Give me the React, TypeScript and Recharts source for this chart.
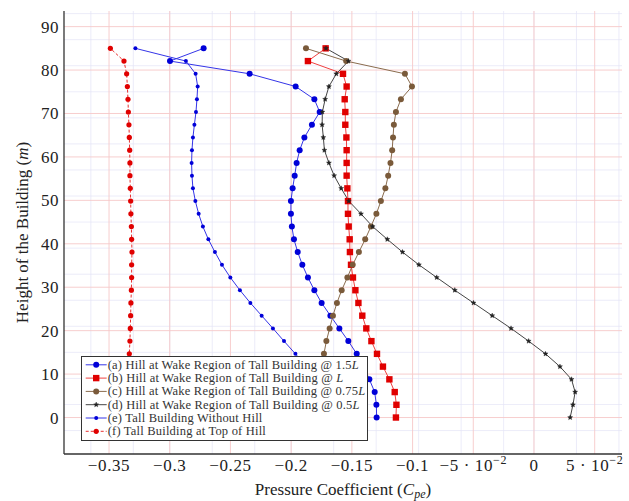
import { CartesianGrid, Label, Legend, Line, LineChart, XAxis, YAxis } from "recharts";

// heights of the pressure taps (m)
const HEIGHTS = [
  0, 2.93, 5.86, 8.79, 11.72, 14.66, 17.59, 20.52, 23.45, 26.38, 29.31, 32.24, 35.17, 38.1, 41.03,
  43.97, 46.9, 49.83, 52.76, 55.69, 58.62, 61.55, 64.48, 67.41, 70.34, 73.28, 76.21, 79.14, 82.07, 85,
];

// Cpe values, bottom to top
const WAKE_1_5L = [
  -0.1296, -0.1298, -0.1312, -0.1356, -0.1403, -0.146, -0.1529, -0.1603, -0.1677, -0.1749, -0.1809,
  -0.1862, -0.1908, -0.1946, -0.1977, -0.1994, -0.2002, -0.2002, -0.1988, -0.1971, -0.1955, -0.193,
  -0.1891, -0.1829, -0.1765, -0.1809, -0.1963, -0.2342, -0.2998, -0.2721,
];
const WAKE_L = [
  -0.1137, -0.1133, -0.1147, -0.1191, -0.1244, -0.1293, -0.1339, -0.1381, -0.1414, -0.1446, -0.1471,
  -0.1491, -0.1507, -0.1516, -0.1518, -0.1526, -0.1532, -0.1532, -0.1537, -0.1543, -0.1543, -0.1543,
  -0.1545, -0.1554, -0.1554, -0.1559, -0.1543, -0.1573, -0.1862, -0.1716,
];
const WAKE_075L = [
  -0.1773, -0.1769, -0.1765, -0.1757, -0.1745, -0.173, -0.171, -0.1683, -0.1656, -0.1623, -0.1584,
  -0.1537, -0.1493, -0.1442, -0.139, -0.1343, -0.1298, -0.1261, -0.1224, -0.1201, -0.1182, -0.1168,
  -0.1161, -0.1154, -0.1137, -0.1096, -0.1005, -0.1063, -0.1547, -0.1878,
];
const WAKE_05L = [
  0.0298, 0.0321, 0.0339, 0.0309, 0.0214, 0.0095, -0.0044, -0.0189, -0.0344, -0.0498, -0.0652,
  -0.0801, -0.0948, -0.1083, -0.1208, -0.1329, -0.1425, -0.1525, -0.1588, -0.1646, -0.1689, -0.1726,
  -0.1735, -0.1745, -0.1743, -0.172, -0.1689, -0.1628, -0.1528, -0.1713,
];
const NO_HILL = [
  -0.16, -0.165, -0.1716, -0.179, -0.1872, -0.1965, -0.2059, -0.215, -0.2243, -0.2336, -0.2422,
  -0.2501, -0.257, -0.2628, -0.2682, -0.2727, -0.2762, -0.2789, -0.2809, -0.2817, -0.282, -0.2817,
  -0.2809, -0.2797, -0.2784, -0.2776, -0.277, -0.2787, -0.2867, -0.3283,
];
const TOP_OF_HILL = [
  -0.3341, -0.334, -0.3339, -0.3337, -0.3335, -0.3333, -0.3328, -0.3325, -0.3322, -0.332, -0.3316,
  -0.3314, -0.3314, -0.3311, -0.3314, -0.3316, -0.332, -0.3322, -0.3325, -0.3328, -0.3328, -0.333,
  -0.3333, -0.3336, -0.3341, -0.3344, -0.3349, -0.3355, -0.3377, -0.3489,
];

const X_TICKS = [-0.35, -0.3, -0.25, -0.2, -0.15, -0.1, -0.05, 0, 0.05];
const Y_TICKS = [0, 10, 20, 30, 40, 50, 60, 70, 80, 90];
const X_MINOR = Array.from({ length: 92 }, (_, i) => Math.round((-0.385 + i * 0.005) * 1000) / 1000);
const Y_MINOR = Array.from({ length: 102 }, (_, i) => i - 8);

const FONT = "Liberation Serif, DejaVu Serif, serif";
const BLUE = "#0000d8";
const RED = "#e00000";
const BROWN = "#7a5a3a";

type Shape = "circle" | "square" | "star";

type SeriesDef = {
  key: string;
  label: string;
  italic?: string;
  color: string;
  line: string;
  shape: Shape;
  r: number;
  dash?: string;
};

const SERIES: SeriesDef[] = [
  { key: "a", label: "(a) Hill at Wake Region of Tall Building @ 1.5", italic: "L", color: BLUE, line: "#3535e8", shape: "circle", r: 3 },
  { key: "b", label: "(b) Hill at Wake Region of Tall Building @ ", italic: "L", color: RED, line: "#f04040", shape: "square", r: 3.2 },
  { key: "c", label: "(c) Hill at Wake Region of Tall Building @ 0.75", italic: "L", color: BROWN, line: "#8a6c4e", shape: "circle", r: 3 },
  { key: "d", label: "(d) Hill at Wake Region of Tall Building @ 0.5", italic: "L", color: "#222", line: "#444", shape: "star", r: 2.6 },
  { key: "e", label: "(e) Tall Building Without Hill", color: BLUE, line: "#3535e8", shape: "circle", r: 2 },
  { key: "f", label: "(f) Tall Building at Top of Hill", color: RED, line: "#e83030", shape: "circle", r: 2.6, dash: "3 2" },
];

const chartData = HEIGHTS.map((h, i) => ({
  h,
  a: WAKE_1_5L[i],
  b: WAKE_L[i],
  c: WAKE_075L[i],
  d: WAKE_05L[i],
  e: NO_HILL[i],
  f: TOP_OF_HILL[i],
}));

const textStyle = { fontFamily: FONT };

function starPath(cx: number, cy: number, r: number) {
  const pts: string[] = [];
  for (let k = 0; k < 10; k++) {
    const rad = k % 2 === 0 ? r : r * 0.45;
    const ang = -Math.PI / 2 + (k * Math.PI) / 5;
    pts.push(`${(cx + rad * Math.cos(ang)).toFixed(2)},${(cy + rad * Math.sin(ang)).toFixed(2)}`);
  }
  return `M${pts.join("L")}Z`;
}

function Marker({ cx, cy, s }: { cx: number; cy: number; s: SeriesDef }) {
  if (cx == null || cy == null) return null;
  if (s.shape === "square") {
    return <rect x={cx - s.r} y={cy - s.r} width={s.r * 2} height={s.r * 2} fill={s.color} />;
  }
  if (s.shape === "star") {
    return <path d={starPath(cx, cy, s.r)} fill={s.color} stroke={s.color} strokeWidth={0.4} />;
  }
  return <circle cx={cx} cy={cy} r={s.r} fill={s.color} />;
}

function XTick({ x, y, payload }: any) {
  const v: number = payload.value;
  const sign = v < 0 ? "\u2212" : "";
  let body: any;
  if (Math.abs(v) < 1e-9) {
    body = "0";
  } else if (Math.abs(Math.abs(v) - 0.05) < 1e-9) {
    body = (
      <>
        {sign}5 · 10
        <tspan dy={-7} fontSize={12}>
          {"\u2212"}2
        </tspan>
      </>
    );
  } else {
    body = sign + String(Math.abs(v));
  }
  return (
    <text x={x} y={y + 13} textAnchor="middle" fontSize={17} letterSpacing={0.6} fill="#222" style={textStyle}>
      {body}
    </text>
  );
}

function YTick({ x, y, payload }: any) {
  return (
    <text x={x} y={y} dy={6} textAnchor="end" fontSize={17} letterSpacing={0.5} fill="#222" style={textStyle}>
      {payload.value}
    </text>
  );
}

function YTitle({ viewBox }: any) {
  const cx = viewBox.x + 8;
  const cy = viewBox.y + viewBox.height / 2;
  return (
    <text x={cx} y={cy} transform={`rotate(-90, ${cx}, ${cy})`} textAnchor="middle" dominantBaseline="central" fontSize={17} fill="#222" style={textStyle}>
      Height of the Building (<tspan fontStyle="italic">m</tspan>)
    </text>
  );
}

function XTitle({ viewBox }: any) {
  const cx = viewBox.x + viewBox.width / 2;
  return (
    <text x={cx} y={viewBox.y + 41} textAnchor="middle" fontSize={17} fill="#222" style={textStyle}>
      Pressure Coefficient (<tspan fontStyle="italic">C</tspan>
      <tspan fontStyle="italic" fontSize={12} dy={3}>
        pe
      </tspan>
      <tspan dy={-3}>)</tspan>
    </text>
  );
}

function LegendBox() {
  return (
    <div style={{ width: 287, height: 85, boxSizing: "border-box", border: "1.3px solid #333", background: "#fff" }}>
      <svg width={285} height={83} style={{ display: "block" }}>
        {SERIES.map((s, i) => {
          const cy = 7.8 + i * 13.3;
          return (
            <g key={s.key}>
              <line x1={3.7} x2={24.7} y1={cy} y2={cy} stroke={s.line} strokeWidth={1} strokeDasharray={s.dash} />
              <Marker cx={14.2} cy={cy} s={s} />
              <text x={25.7} y={cy + 4} fontSize={12.5} letterSpacing={0.2} fill="#333" style={textStyle}>
                {s.label}
                {s.italic && <tspan fontStyle="italic">{s.italic}</tspan>}
              </text>
            </g>
          );
        })}
      </svg>
    </div>
  );
}

export default function App() {
  return (
    <div style={{ position: "absolute", left: 0, top: 0, background: "#fff", fontFamily: FONT }}>
      <LineChart
        width={629}
        height={501}
        data={chartData}
        layout="vertical"
        margin={{ top: 11, right: 7, bottom: 17, left: 14 }}
      >
        <CartesianGrid stroke="#e4e4f6" strokeWidth={0.7} horizontalValues={Y_MINOR} verticalValues={X_MINOR} />
        <CartesianGrid stroke="#f6c8c8" strokeWidth={0.9} horizontalValues={Y_TICKS} verticalValues={X_TICKS} />
        <XAxis
          type="number"
          domain={[-0.3871, 0.0725]}
          ticks={X_TICKS}
          allowDataOverflow
          height={30}
          tickLine={false}
          tickSize={0}
          tickMargin={4}
          tick={<XTick />}
          axisLine={{ stroke: "#333", strokeWidth: 1.3 }}
          label={<Label content={XTitle} />}
        />
        <XAxis
          xAxisId="top"
          orientation="top"
          type="number"
          domain={[-0.3871, 0.0725]}
          height={0}
          tick={false}
          tickLine={false}
          axisLine={{ stroke: "#333", strokeWidth: 1.3 }}
        />
        <YAxis
          type="number"
          dataKey="h"
          domain={[-8.4, 93.6]}
          reversed
          ticks={Y_TICKS}
          allowDataOverflow
          width={50}
          tickLine={false}
          tickSize={0}
          tickMargin={5}
          tick={<YTick />}
          axisLine={{ stroke: "#333", strokeWidth: 1.3 }}
          label={<Label content={YTitle} />}
        />
        <YAxis
          yAxisId="right"
          orientation="right"
          type="number"
          domain={[-8.4, 93.6]}
          reversed
          width={0}
          tick={false}
          tickLine={false}
          axisLine={{ stroke: "#333", strokeWidth: 1.3 }}
        />
        {SERIES.map((s) => (
          <Line
            key={s.key}
            type="linear"
            dataKey={s.key}
            name={s.label}
            stroke={s.line}
            strokeWidth={1}
            strokeDasharray={s.dash}
            isAnimationActive={false}
            dot={(p: any) => <Marker key={`${s.key}-${p.index}`} cx={p.cx} cy={p.cy} s={s} />}
            activeDot={false}
          />
        ))}
        <Legend
          content={<LegendBox />}
          layout="vertical"
          align="center"
          verticalAlign="middle"
          wrapperStyle={{ left: 81, top: 356, width: 287, height: 85 }}
        />
      </LineChart>
    </div>
  );
}
